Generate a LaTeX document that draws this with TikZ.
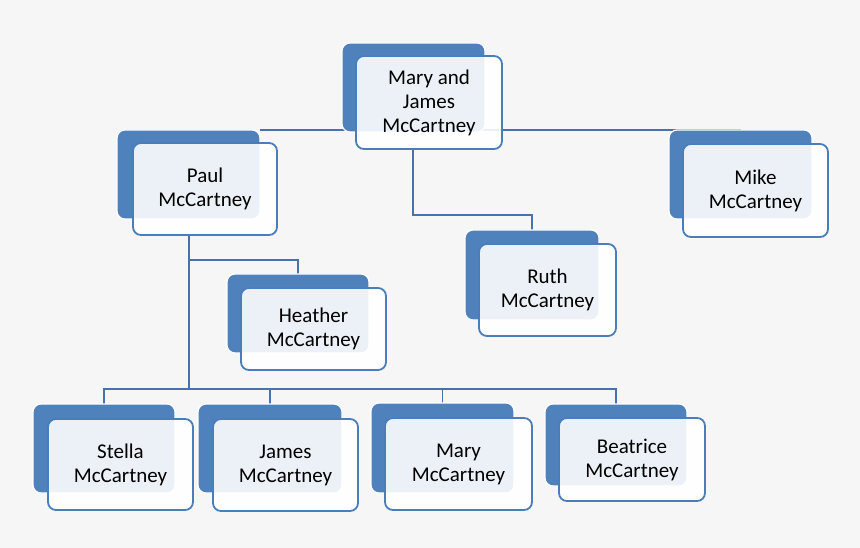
\documentclass[tikz,border=0pt]{standalone}
\usepackage{fontspec}
\setmainfont{Carlito}
\usetikzlibrary{calc}
\pgfdeclarelayer{bg}
\pgfdeclarelayer{canvas}
\pgfsetlayers{canvas,bg,main}
\definecolor{bgc}{HTML}{F6F6F6}
\definecolor{boxblue}{HTML}{4F81BD}
\definecolor{edgeblue}{HTML}{4A7EBB}
\definecolor{linkblue}{HTML}{4573AE}
\tikzset{
  backbox/.style={draw=white, line width=1.2pt, fill=boxblue, rounded corners=8pt,
    anchor=north west, inner sep=0pt, outer sep=0pt},
  frontbox/.style={draw=edgeblue, line width=1.8pt, fill=white, fill opacity=0.89,
    text opacity=1, rounded corners=8pt, anchor=north west, inner sep=0pt, outer sep=0pt,
    align=center, font=\fontsize{21}{24}\selectfont, text=black},
  link/.style={draw=linkblue, line width=1.7pt}
}
\begin{document}
\begin{tikzpicture}[x=1pt,y=-1pt]
\useasboundingbox (0,0) rectangle (860,548);
\begin{pgfonlayer}{canvas}
\fill[bgc] (0,0) rectangle (860,548);
\end{pgfonlayer}

% Mary and James
\node[backbox, minimum width=143pt, minimum height=89pt] (mjB) at (342,43) {};
\node[frontbox, minimum width=146pt, minimum height=93pt] (mj) at (356,56) {Mary and\\James\\McCartney};
% Paul
\node[backbox, minimum width=143pt, minimum height=89pt] (paulB) at (117,130) {};
\node[frontbox, minimum width=144pt, minimum height=92pt] (paul) at (133,143) {Paul\\McCartney};
% Mike
\node[backbox, minimum width=143pt, minimum height=89pt] (mikeB) at (669,130) {};
\node[frontbox, minimum width=145pt, minimum height=93pt] (mike) at (683,144) {Mike\\McCartney};
% Ruth
\node[backbox, minimum width=134pt, minimum height=90pt] (ruthB) at (465,230) {};
\node[frontbox, minimum width=137pt, minimum height=92pt] (ruth) at (479,244) {Ruth\\McCartney};
% Heather
\node[backbox, minimum width=142pt, minimum height=79pt] (heatherB) at (227,274) {};
\node[frontbox, minimum width=145pt, minimum height=82pt] (heather) at (241,288) {Heather\\McCartney};
% Stella
\node[backbox, minimum width=142pt, minimum height=89pt] (stellaB) at (33,404) {};
\node[frontbox, minimum width=145pt, minimum height=91pt] (stella) at (48,419) {Stella\\McCartney};
% James
\node[backbox, minimum width=144pt, minimum height=89pt] (jamesB) at (198,404) {};
\node[frontbox, minimum width=145pt, minimum height=92pt] (james) at (213,419) {James\\McCartney};
% Mary
\node[backbox, minimum width=143pt, minimum height=90pt] (maryB) at (371,403) {};
\node[frontbox, minimum width=147pt, minimum height=92pt] (mary) at (385,418) {Mary\\McCartney};
% Beatrice
\node[backbox, minimum width=142pt, minimum height=82pt] (beatB) at (545,404) {};
\node[frontbox, minimum width=146pt, minimum height=83pt] (beat) at (559,418) {Beatrice\\McCartney};

\begin{pgfonlayer}{bg}
  % top level
  \draw[link] (paulB.north east) -- (mikeB.north);
  \coordinate (mjdrop) at ([xshift=-16pt]mj.south);
  \coordinate (rb) at ([yshift=15pt]ruthB.north);
  \draw[link] (mjdrop) -- (mjdrop |- rb) -- (rb) -- (ruthB.north);
  % Paul's children
  \coordinate (pdrop) at ([xshift=-16pt]paul.south);
  \coordinate (bus) at ([yshift=15pt]stellaB.north);
  \draw[link] (pdrop) -- (pdrop |- bus);
  \coordinate (hb) at ([yshift=14pt]heatherB.north);
  \draw[link] (hb -| pdrop) -- (hb) -- (heatherB.north);
  \draw[link] (stellaB.north) -- (bus) -- (bus -| beatB.north) -- (beatB.north);
  \draw[link] (bus -| jamesB.north) -- (jamesB.north);
  \draw[link] (bus -| maryB.north) -- (maryB.north);
\end{pgfonlayer}
\end{tikzpicture}
\end{document}
